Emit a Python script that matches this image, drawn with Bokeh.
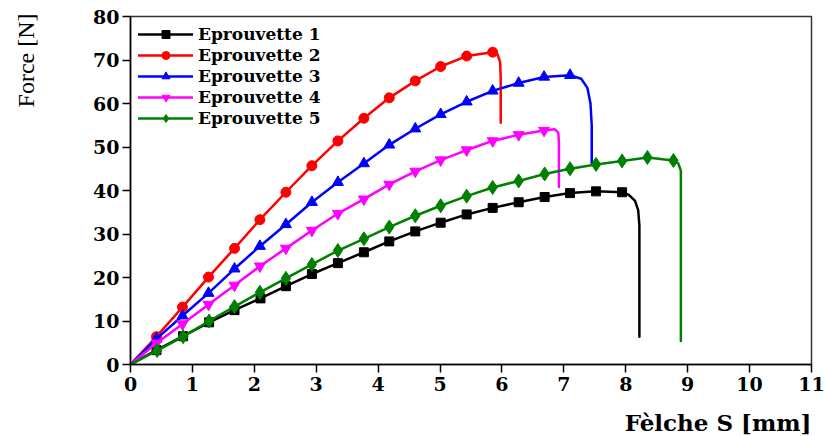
from bokeh.plotting import figure
from bokeh.models import Range1d, FixedTicker, Legend, LegendItem, Title
from bokeh.embed import file_html
from bokeh.resources import INLINE

# ---- data ----
# regular measurement points (with markers)
e1_x = [0, 0.42, 0.85, 1.27, 1.68, 2.10, 2.51, 2.93, 3.35, 3.77, 4.18, 4.60, 5.01, 5.43, 5.85, 6.27, 6.69, 7.10, 7.52, 7.94]
e1_y = [0, 3.3, 6.5, 9.7, 12.5, 15.2, 18.0, 20.8, 23.3, 25.8, 28.3, 30.6, 32.6, 34.5, 36.0, 37.3, 38.5, 39.4, 39.8, 39.6]
e1_tail_x = [8.05, 8.15, 8.20, 8.22, 8.22]
e1_tail_y = [39.0, 37.6, 35.5, 32.0, 6.4]

e2_x = [0, 0.42, 0.84, 1.26, 1.68, 2.09, 2.51, 2.93, 3.35, 3.77, 4.18, 4.60, 5.01, 5.43, 5.85]
e2_y = [0, 6.4, 13.2, 20.1, 26.7, 33.3, 39.6, 45.7, 51.4, 56.6, 61.3, 65.2, 68.5, 70.9, 71.8]
e2_tail_x = [5.93, 5.97, 5.98, 5.98]
e2_tail_y = [71.3, 69.5, 66.0, 55.6]

e3_x = [0, 0.42, 0.84, 1.26, 1.68, 2.09, 2.51, 2.93, 3.35, 3.77, 4.18, 4.60, 5.01, 5.43, 5.85, 6.27, 6.68, 7.10]
e3_y = [0, 5.9, 11.2, 16.4, 22.0, 27.2, 32.2, 37.3, 41.9, 46.2, 50.5, 54.2, 57.5, 60.4, 62.9, 64.7, 66.1, 66.5]
e3_tail_x = [7.28, 7.38, 7.43, 7.45, 7.45]
e3_tail_y = [65.7, 63.6, 60.0, 55.0, 46.1]

e4_x = [0, 0.42, 0.84, 1.26, 1.68, 2.09, 2.51, 2.93, 3.35, 3.77, 4.18, 4.60, 5.01, 5.43, 5.85, 6.27, 6.68]
e4_y = [0, 4.9, 9.3, 13.8, 18.2, 22.6, 26.7, 30.8, 34.7, 38.0, 41.4, 44.4, 47.0, 49.3, 51.4, 52.8, 53.8]
e4_tail_x = [6.85, 6.91, 6.92, 6.92]
e4_tail_y = [54.1, 53.3, 51.0, 40.8]

e5_x = [0, 0.43, 0.85, 1.27, 1.68, 2.09, 2.51, 2.93, 3.35, 3.77, 4.18, 4.60, 5.01, 5.43, 5.85, 6.27, 6.69, 7.10, 7.52, 7.94, 8.35, 8.77]
e5_y = [0, 3.2, 6.4, 10.0, 13.3, 16.6, 19.8, 23.0, 26.2, 28.9, 31.6, 34.2, 36.5, 38.7, 40.7, 42.2, 43.8, 45.0, 46.0, 46.8, 47.6, 46.9]
e5_tail_x = [8.85, 8.89, 8.89]
e5_tail_y = [46.2, 44.5, 5.4]

labels = ["Eprouvette 1", "Eprouvette 2", "Eprouvette 3", "Eprouvette 4", "Eprouvette 5"]
colors = ["#000000", "#ff0000", "#0000ff", "#ff00ff", "#008000"]
markers = ["square", "circle", "triangle", "inverted_triangle", "diamond"]
msizes = [9, 10, 11, 11, 14]

x_ticks = list(range(0, 12))
y_ticks = list(range(0, 90, 10))

x_title = "Fèlche S [mm]"
y_title = "Force [N]"

series = [
    (e1_x, e1_y, e1_tail_x, e1_tail_y),
    (e2_x, e2_y, e2_tail_x, e2_tail_y),
    (e3_x, e3_y, e3_tail_x, e3_tail_y),
    (e4_x, e4_y, e4_tail_x, e4_tail_y),
    (e5_x, e5_y, e5_tail_x, e5_tail_y),
]

p = figure(width=825, height=436, output_backend="svg", toolbar_location=None,
           x_range=Range1d(0, 11), y_range=Range1d(0, 80),
           min_border_left=130, min_border_right=14, min_border_top=16, min_border_bottom=72)

p.xgrid.visible = False
p.ygrid.visible = False
p.background_fill_color = "white"
p.border_fill_color = "white"
p.outline_line_color = "#333333"
p.outline_line_width = 1.5

for ax in (p.xaxis[0], p.yaxis[0]):
    ax.axis_line_width = 1.5
    ax.axis_line_color = "black"
    ax.major_tick_line_width = 1.5
    ax.major_tick_line_color = "black"
    ax.major_tick_out = 8
    ax.major_tick_in = 0
    ax.minor_tick_out = 0
    ax.minor_tick_in = 0
    ax.major_label_text_font = "DejaVu Serif"
    ax.major_label_text_font_style = "bold"
    ax.major_label_text_font_size = "19px"
    ax.major_label_text_color = "black"

p.xaxis[0].ticker = FixedTicker(ticks=x_ticks)
p.yaxis[0].ticker = FixedTicker(ticks=y_ticks)
p.xaxis[0].major_label_standoff = 4
p.yaxis[0].major_label_standoff = 3

items = []
for (mx, my, tx, ty), lab, c, m, s in zip(series, labels, colors, markers, msizes):
    lx = list(mx) + list(tx)
    ly = list(my) + list(ty)
    ln = p.line(lx, ly, line_color=c, line_width=2.5, line_join="round", line_cap="round")
    sc = p.scatter(mx[1:], my[1:], marker=m, size=s, fill_color=c, line_color=c)
    items.append(LegendItem(label=lab, renderers=[ln, sc]))

legend = Legend(items=items, location="top_left")
legend.label_text_font = "DejaVu Serif"
legend.label_text_font_style = "bold"
legend.label_text_font_size = "17px"
legend.label_text_color = "black"
legend.glyph_width = 55
legend.glyph_height = 20
legend.label_height = 20
legend.label_standoff = 5
legend.spacing = 1
legend.padding = 8
legend.margin = 0
legend.border_line_alpha = 0
legend.background_fill_alpha = 0
p.add_layout(legend)

# spacers (blank titles) push the axis titles toward the canvas edges
p.add_layout(Title(text=" ", text_font_size="8px", standoff=1), "below")
xt = Title(text=x_title, align="right", text_font="DejaVu Serif",
           text_font_style="bold", text_font_size="23px", text_color="black", standoff=2)
p.add_layout(xt, "below")

p.add_layout(Title(text=" ", text_font_size="10px", standoff=29), "left")
yt = Title(text=y_title, align="right", text_font="Liberation Serif",
           text_font_style="normal", text_font_size="24px", text_color="black",
           standoff=20, offset=-3)
p.add_layout(yt, "left")

open("out.html", "w").write(file_html(p, INLINE))
